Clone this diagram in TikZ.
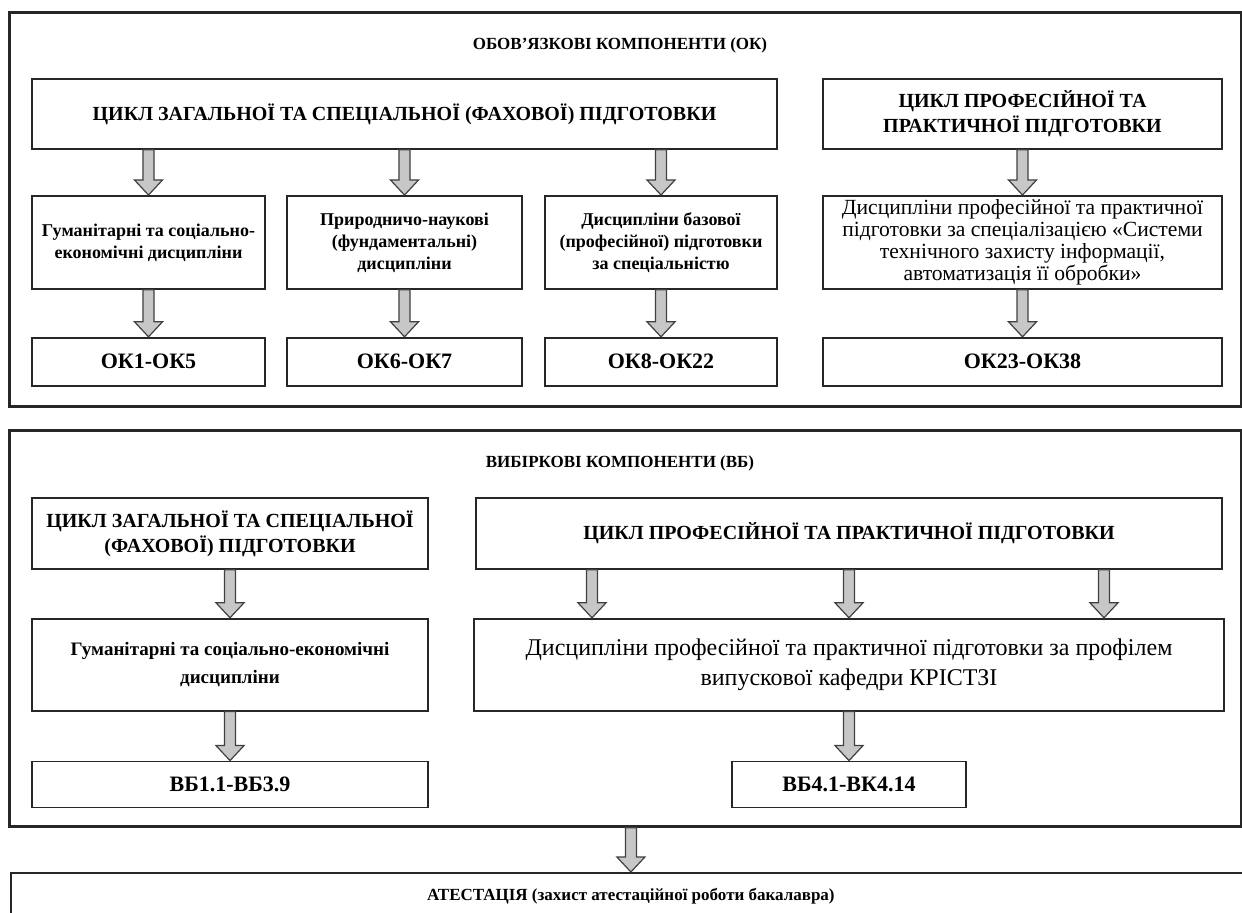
\documentclass[tikz,border=0pt]{standalone}
\usepackage{fontspec}
\setmainfont{Liberation Serif}
\usetikzlibrary{positioning,calc}

% wide grey block arrow, top point -> tip point
\newcommand{\fatarrow}[2]{%
  \path (#1) coordinate (fatA) (#2) coordinate (fatB);
  \draw[fat] ($(fatA)+(-5.5,0)$) -- ($(fatB)+(-5.5,-15)$) -- ($(fatB)+(-14,-15)$)
    -- (fatB) -- ($(fatB)+(14,-15)$) -- ($(fatB)+(5.5,-15)$) -- ($(fatA)+(5.5,0)$) -- cycle;}

\begin{document}
\begin{tikzpicture}[
    x=0.5pt, y=-0.5pt,
    node distance=23.5pt,
    frame/.style={draw=black!85, line width=1.4pt, minimum width=616pt, inner sep=0pt},
    box/.style={draw=black!85, line width=0.9pt, align=center, inner sep=2pt},
    head/.style={font=\fontsize{10}{12.5}\selectfont\bfseries},
    small/.style={font=\fontsize{9}{11}\selectfont\bfseries},
    wide/.style={font=\fontsize{9.5}{14}\selectfont\bfseries},
    code/.style={font=\fontsize{11}{13}\selectfont\bfseries},
    plain/.style={font=\fontsize{10.8}{11}\selectfont, inner sep=1pt},
    big/.style={font=\fontsize{12}{15}\selectfont},
    title/.style={font=\fontsize{8.5}{10}\selectfont\bfseries},
    fat/.style={draw=black!75, fill=black!22, line width=0.6pt, line join=miter}
]
\useasboundingbox (0,0) rectangle (1242,913);
\fill[white] (0,0) rectangle (1242,913);

% obligatory components
\node[frame, minimum height=197pt, anchor=north west] (ok) at (8,11) {};
\node[title] (oktitle) at (620,45) {ОБОВ’ЯЗКОВІ КОМПОНЕНТИ (ОК)};

\node[box, head, minimum width=372.5pt, minimum height=35pt, anchor=north] (zag) at (404.5,78)
  {ЦИКЛ ЗАГАЛЬНОЇ ТА СПЕЦІАЛЬНОЇ (ФАХОВОЇ) ПІДГОТОВКИ};
\node[box, head, minimum width=199.5pt, minimum height=35pt, anchor=north] (prof) at (1022.5,78)
  {ЦИКЛ ПРОФЕСІЙНОЇ ТА\\ПРАКТИЧНОЇ ПІДГОТОВКИ};

\node[box, small, minimum width=116.5pt, minimum height=46.5pt, anchor=north] (hum) at (148.5,195)
  {Гуманітарні та соціально-\\економічні дисципліни};
\node[box, small, minimum width=117.5pt, minimum height=46.5pt, anchor=north] (nat) at (404.5,195)
  {Природничо-наукові\\(фундаментальні)\\дисципліни};
\node[box, small, minimum width=116pt, minimum height=46.5pt, anchor=north] (base) at (661,195)
  {Дисципліни базової\\(професійної) підготовки\\за спеціальністю};
\node[box, plain, minimum width=199.5pt, minimum height=46.5pt, anchor=north] (spec) at (1022.5,195)
  {Дисципліни професійної та практичної\\підготовки за спеціалізацією «Системи\\технічного захисту інформації,\\автоматизація її обробки»};

\node[box, code, minimum width=116.5pt, minimum height=24pt, below=of hum] (ok1) {ОК1-ОК5};
\node[box, code, minimum width=117.5pt, minimum height=24pt, below=of nat] (ok2) {ОК6-ОК7};
\node[box, code, minimum width=116pt, minimum height=24pt, below=of base] (ok3) {ОК8-ОК22};
\node[box, code, minimum width=199.5pt, minimum height=24pt, below=of spec] (ok4) {ОК23-ОК38};

\fatarrow{zag.south -| hum.north}{hum.north}
\fatarrow{zag.south -| nat.north}{nat.north}
\fatarrow{zag.south -| base.north}{base.north}
\fatarrow{prof.south}{spec.north}
\fatarrow{hum.south}{ok1.north}
\fatarrow{nat.south}{ok2.north}
\fatarrow{base.south}{ok3.north}
\fatarrow{spec.south}{ok4.north}

% elective components
\node[frame, minimum height=198pt, anchor=north west] (vb) at (8,429) {};
\node[title] (vbtitle) at (620,463) {ВИБІРКОВІ КОМПОНЕНТИ (ВБ)};

\node[box, head, minimum width=198pt, minimum height=35.5pt, anchor=north] (zag2) at (230,497)
  {ЦИКЛ ЗАГАЛЬНОЇ ТА СПЕЦІАЛЬНОЇ\\(ФАХОВОЇ) ПІДГОТОВКИ};
\node[box, head, minimum width=373pt, minimum height=35.5pt, anchor=north] (prof2) at (849,497)
  {ЦИКЛ ПРОФЕСІЙНОЇ ТА ПРАКТИЧНОЇ ПІДГОТОВКИ};

\node[box, wide, minimum width=198pt, minimum height=46pt, below=24pt of zag2] (hum2)
  {Гуманітарні та соціально-економічні\\дисципліни};
\node[box, big, minimum width=375pt, minimum height=46pt, below=24pt of prof2] (kaf)
  {Дисципліни професійної та практичної підготовки за профілем\\випускової кафедри КРІСТЗІ};

\node[box, code, minimum width=198pt, minimum height=23pt, below=24.5pt of hum2] (vb1) {ВБ1.1-ВБ3.9};
\node[box, code, minimum width=117pt, minimum height=23pt, below=24.5pt of kaf] (vb4) {ВБ4.1-ВК4.14};

\coordinate (kafL) at ($(kaf.north)+(-257,0)$);
\coordinate (kafR) at ($(kaf.north)+(255,0)$);
\fatarrow{zag2.south}{hum2.north}
\fatarrow{prof2.south -| kafL}{kafL}
\fatarrow{prof2.south -| kaf.north}{kaf.north}
\fatarrow{prof2.south -| kafR}{kafR}
\fatarrow{hum2.south}{vb1.north}
\fatarrow{kaf.south -| vb4.north}{vb4.north}

% attestation
\node[box, title, minimum width=620pt, minimum height=23pt, anchor=north west] (att) at (10,872)
  {АТЕСТАЦІЯ (захист атестаційної роботи бакалавра)};
\fatarrow{vb.south -| att.north}{att.north}
\end{tikzpicture}
\end{document}
